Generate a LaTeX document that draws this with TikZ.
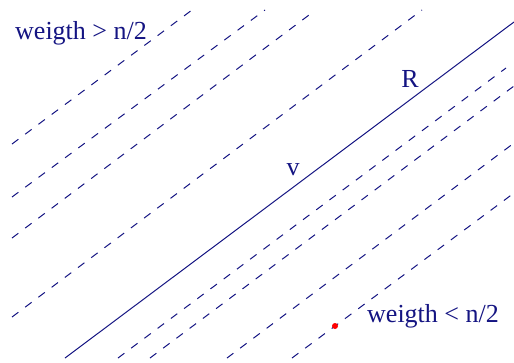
\documentclass[tikz,border=0pt]{standalone}
\usepackage{fontspec}
\setmainfont{Liberation Serif}
\begin{document}
\begin{tikzpicture}[x=1pt,y=-1pt,
  ln/.style={draw=navyblue,line width=1pt},
  dln/.style={ln,dash pattern=on 8pt off 8.5pt},
  lbl/.style={text=navyblue,inner sep=0pt,font=\fontsize{26}{30}\selectfont}]
\definecolor{navyblue}{RGB}{20,20,130}
\useasboundingbox (0,0) rectangle (514,362);
% dashed lines above the solid line
\coordinate (a1) at (12,144); \coordinate (a2) at (192,10);
\coordinate (b1) at (12,197); \coordinate (b2) at (265,10);
\coordinate (c1) at (12,238); \coordinate (c2) at (313,12);
\coordinate (d1) at (12,317); \coordinate (d2) at (422,10);
% solid line
\coordinate (s1) at (65,358); \coordinate (s2) at (514,22);
% dashed lines below
\coordinate (e1) at (118,358); \coordinate (e2) at (506,68);
\coordinate (f1) at (150,358); \coordinate (f2) at (514,86);
\coordinate (g1) at (227,358); \coordinate (g2) at (514,143);
\coordinate (h1) at (292,358); \coordinate (h2) at (514,193);
\draw[dln] (a1) -- (a2);
\draw[dln] (b1) -- (b2);
\draw[dln] (c1) -- (c2);
\draw[dln] (d1) -- (d2);
\draw[ln] (s1) -- (s2);
\draw[dln] (e1) -- (e2);
\draw[dln] (f1) -- (f2);
\draw[dln] (g1) -- (g2);
\draw[dln] (h1) -- (h2);
\fill[red] (335,326) circle (3pt) node[inner sep=0pt] (dot) {};
\node[lbl,anchor=base west] (up) at (15,39) {weigth > n/2};
\node[lbl,anchor=base west] (lo) at (367,322) {weigth < n/2};
\node[lbl,anchor=base] (v) at (293,175) {v};
\node[lbl,anchor=base] (R) at (410,87) {R};
\end{tikzpicture}
\end{document}
